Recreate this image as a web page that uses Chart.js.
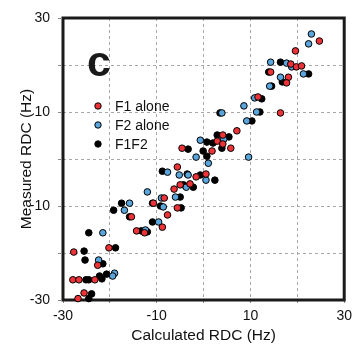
<!DOCTYPE html>
<html>
<head>
<meta charset="utf-8">
<script src="https://cdn.jsdelivr.net/npm/chart.js@4.4.0/dist/chart.umd.min.js"></script>
<style>
  html, body { margin: 0; padding: 0; background: #fff; }
  #wrap { width: 355px; height: 347px; }
</style>
</head>
<body>
<div id="wrap"><canvas id="rdc"></canvas></div>
<script>
// data: [calculated, measured] in Hz
const f1Alone = [
  [24.7, 25.1], [19.6, 23.0], [18.6, 20.2], [19.8, 19.6], [20.9, 19.8],
  [14.3, 18.5], [18.1, 17.4], [17.7, 16.2], [11.6, 13.2], [16.4, 9.8],
  [7.1, 6.0], [2.9, 3.8], [4.1, 5.1], [4.1, 3.2], [5.8, 2.3],
  [1.8, 1.7], [-4.6, 2.3], [-5.6, -1.7], [-1.6, -3.8], [0.5, -3.2],
  [-5.0, -5.5], [-2.9, -5.3], [-6.3, -6.4], [-8.4, -8.3], [-10.7, -9.4],
  [-5.6, -10.4], [-15.4, -12.3], [-7.7, -11.9], [-8.8, -14.5], [-14.3, -15.3],
  [-12.6, -15.7], [-27.7, -19.8], [-20.2, -18.9], [-22.6, -22.6], [-27.9, -25.7],
  [-26.6, -25.7], [-23.2, -25.7], [-25.5, -28.5], [-26.8, -29.7]
];
const f2Alone = [
  [23.0, 26.6], [22.4, 24.5], [14.3, 20.6], [17.7, 20.4], [18.8, 19.6],
  [21.3, 18.1], [16.4, 17.4], [14.1, 15.5], [10.9, 13.0], [8.6, 11.3],
  [3.9, 9.8], [11.3, 10.0], [9.2, 8.1], [-0.7, 4.0], [4.3, 4.2],
  [-1.6, 0.4], [9.6, 0.4], [1.0, -0.9], [-7.7, -2.8], [-5.2, -3.4],
  [-3.3, -3.4], [0.5, -4.5], [-3.7, -6.0], [-6.0, -8.1], [-9.0, -8.3],
  [-12.0, -7.0], [-15.8, -9.4], [-8.6, -10.2], [-16.9, -10.9], [-9.6, -13.4],
  [-12.4, -15.1], [-21.5, -15.7], [-22.4, -21.5], [-19.0, -24.3], [-19.4, -24.9]
];
const f1f2 = [
  [16.4, 20.6], [13.9, 18.5], [22.4, 18.1], [16.8, 16.4], [14.5, 15.5],
  [12.4, 12.8], [3.5, 9.8], [12.0, 10.0], [10.3, 8.1], [0.7, 3.6],
  [2.0, 3.4], [2.9, 5.1], [5.4, 4.7], [3.9, 2.3], [-0.1, 1.7],
  [-3.3, 2.1], [0.7, 0.6], [-8.8, -2.6], [-3.5, -3.2], [-0.7, -3.4],
  [2.4, -4.5], [-4.3, -5.5], [-2.2, -6.0], [-5.0, -8.1], [-4.8, -10.4],
  [-9.2, -10.0], [-10.9, -9.4], [-17.5, -9.4], [-19.2, -10.9], [-15.8, -12.3],
  [-10.9, -13.4], [-13.3, -15.3], [-12.0, -15.5], [-24.5, -15.7], [-25.5, -19.6],
  [-18.8, -18.9], [-25.3, -21.5], [-21.5, -22.3], [-20.7, -24.5], [-22.2, -24.9],
  [-21.7, -25.5], [-25.1, -25.7], [-24.5, -25.7], [-23.9, -28.7], [-24.5, -29.7]
];
const seriesNames = ["F1 alone", "F2 alone", "F1F2"];
const seriesColors = ["#ee3338", "#5aa5db", "#000000"];
const tickLabels = [-30, -10, 10, 30];
const panelLetter = "c";

const FONT = "'Liberation Sans', Arial, Helvetica, sans-serif";

function toPoints(arr) {
  return arr.map(p => ({ x: p[0], y: p[1] }));
}

// frame, panel letter and legend drawn on the canvas
const decor = {
  id: "decor",
  beforeDatasetsDraw(chart) {
    const { ctx, chartArea: a } = chart;
    ctx.save();
    ctx.strokeStyle = "#1a1a1a";
    ctx.lineWidth = 3;
    ctx.strokeRect(a.left, a.top, a.right - a.left, a.bottom - a.top);
    ctx.restore();
  },
  afterDraw(chart) {
    const { ctx } = chart;
    ctx.save();
    ctx.fillStyle = "#1a1a1a";
    ctx.font = "bold 43px " + FONT;
    ctx.textBaseline = "alphabetic";
    ctx.fillText(panelLetter, 87, 76);

    ctx.font = "14px " + FONT;
    ctx.textBaseline = "middle";
    chart.data.datasets.forEach((ds, i) => {
      const y = 106 + i * 19;
      ctx.beginPath();
      ctx.arc(98, y, 3.2, 0, Math.PI * 2);
      ctx.fillStyle = ds.backgroundColor;
      ctx.fill();
      ctx.lineWidth = 1;
      ctx.strokeStyle = "#000";
      ctx.stroke();
      ctx.fillStyle = "#111";
      ctx.fillText(ds.label, 115, y + 1);
    });
    ctx.restore();
  }
};

function axisOpts(title, isX) {
  return {
    type: "linear",
    min: -30,
    max: 30,
    border: { display: false, dash: [3, 3] },
    grid: {
      color: "#a8a8a8",
      lineWidth: 1,
      tickLength: 5,
      tickColor: "#888",
      tickBorderDash: [3, 3]
    },
    ticks: {
      stepSize: 10,
      autoSkip: false,
      maxRotation: 0,
      padding: isX ? 3 : 8,
      color: "#111",
      font: { family: FONT, size: 14 },
      callback: v => tickLabels.includes(v) ? String(v) : ""
    },
    title: {
      display: true,
      text: title,
      color: "#111",
      font: { family: FONT, size: 15.5 },
      padding: isX ? { top: 0, bottom: 2 } : { top: 17, bottom: 0 }
    },
    afterFit(scale) {
      if (isX) scale.height = 47; else scale.width = 63;
    }
  };
}

new Chart(document.getElementById("rdc"), {
  type: "scatter",
  data: {
    datasets: [f1Alone, f2Alone, f1f2].map((arr, i) => ({
      label: seriesNames[i],
      data: toPoints(arr),
      backgroundColor: seriesColors[i],
      borderColor: "#000",
      borderWidth: 1,
      pointRadius: 3.3,
      pointHoverRadius: 3.3,
      clip: false
    }))
  },
  options: {
    responsive: true,
    maintainAspectRatio: false,
    animation: false,
    layout: { padding: { top: 18, right: 9, left: 0, bottom: 0 } },
    plugins: {
      legend: { display: false },
      tooltip: { enabled: false }
    },
    scales: {
      x: axisOpts("Calculated RDC (Hz)", true),
      y: axisOpts("Measured RDC (Hz)", false)
    }
  },
  plugins: [decor]
});
</script>
</body>
</html>
